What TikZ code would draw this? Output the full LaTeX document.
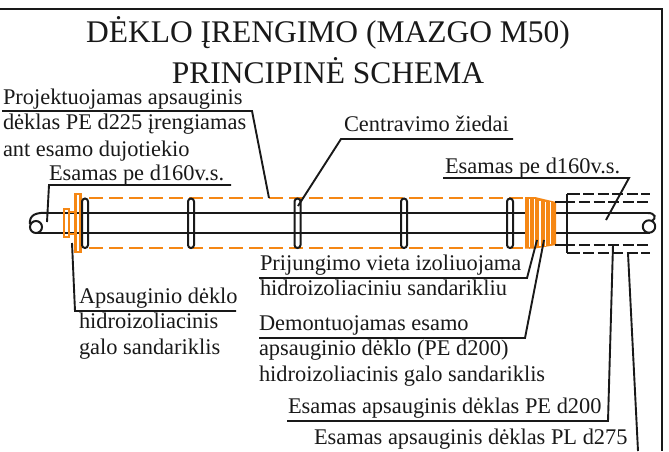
\documentclass[tikz,border=0pt]{standalone}
\usepackage{fontspec}
\setmainfont{Liberation Serif}
\definecolor{orng}{RGB}{245,135,20}
\definecolor{ink}{RGB}{25,25,25}
\tikzset{
 lbl/.style={anchor=base west,inner sep=0pt,outer sep=0pt,text=ink,font=\fontsize{22.4}{25}\selectfont},
 ttl/.style={anchor=base,inner sep=0pt,text=ink,font=\fontsize{31.5}{34}\selectfont},
 leader/.style={draw=ink,line width=1.9pt},
 pipe/.style={draw=ink,line width=2pt},
 dashpipe/.style={draw=ink,line width=2pt,dash pattern=on 11pt off 3.5pt},
 orngdash/.style={draw=orng,line width=2.4pt,dash pattern=on 14pt off 6pt},
 orngsolid/.style={draw=orng,line width=2.2pt},
 ring/.style={draw=ink,line width=2pt,rounded corners=3pt}
}
\begin{document}
\begin{tikzpicture}[x=1pt,y=-1pt]
\useasboundingbox (0,0) rectangle (669,451);
\fill[white] (0,0) rectangle (669,451);
% frame edge
\draw[pipe,line width=2.2pt] (0,9) -- (662,9) -- (662,451);
% title
\node[ttl] (t1) at (328,42) {DĖKLO ĮRENGIMO (MAZGO M50)};
\node[ttl] (t2) at (328,83) {PRINCIPINĖ SCHEMA};
% pipes
\draw[pipe] (48,213) -- (648,213);
\draw[pipe] (36,232.5) -- (650,232.5);
% pipe break ends
\draw[pipe] (48,213) .. controls (36,212) and (29,215) .. (30,224);
\draw[pipe] (36,227) circle (6);
\draw[pipe] (648,213) .. controls (655,213) and (657,218) .. (652,221);
\draw[pipe] (649,226.5) circle (6.2);
% orange sleeve
\draw[orngdash] (89,198) -- (530,198);
\draw[orngdash] (89,248) -- (530,248);
% left seal
\draw[orngsolid] (64,209) rectangle (69,237);
\draw[orngsolid] (69,212) -- (75,212) (69,234) -- (75,234);
\draw[orngsolid] (75.5,194) rectangle (80.5,252);
% rings
\foreach \x in {85,191,297.5,404,510}{
 \draw[ring] (\x-3,198.5) rectangle (\x+3,248);
}
% right seal
\fill[orng] (525,197) -- (535,197) -- (556,202) -- (556,245) -- (535,248.5) -- (525,248.5) -- cycle;
\foreach \x/\a/\b in {529.5/199/246.5,534.5/199/246.5,540/200.5/246,545.5/201.5/245.5,550.5/202/243.5}{
 \draw[white,line width=1.9pt] (\x,\a) -- (\x,\b);
}
% existing casing, right
\draw[pipe] (567,193.5) -- (567,253);
\draw[pipe] (555,202) -- (575,202);
\draw[pipe] (555,245) -- (575,245);
\draw[pipe] (567,193.5) -- (580,193.5);
\draw[pipe] (567,253) -- (580,253);
\draw[dashpipe] (583,193.5) -- (650,193.5);
\draw[dashpipe] (579,202) -- (650,202);
\draw[dashpipe] (579,245) -- (650,245);
\draw[dashpipe] (583,253) -- (650,253);
% labels
\node[lbl] (l1a) at (3,104) {Projektuojamas apsauginis};
\node[lbl] (l1b) at (3,129.5) {dėklas PE d225 įrengiamas};
\node[lbl] (l1c) at (3,156) {ant esamo dujotiekio};
\node[lbl] (l2) at (49,180) {Esamas pe d160v.s.};
\node[lbl] (l3) at (344,131) {Centravimo žiedai};
\node[lbl] (l4) at (445,173) {Esamas pe d160v.s.};
\node[lbl] (l5a) at (260,270) {Prijungimo vieta izoliuojama};
\node[lbl] (l5b) at (260,295) {hidroizoliaciniu sandarikliu};
\node[lbl] (l6a) at (79,303) {Apsauginio dėklo};
\node[lbl] (l6b) at (79,328) {hidroizoliacinis};
\node[lbl] (l6c) at (79,354) {galo sandariklis};
\node[lbl] (l7a) at (259,330) {Demontuojamas esamo};
\node[lbl] (l7b) at (259,355) {apsauginio dėklo (PE d200)};
\node[lbl] (l7c) at (259,381) {hidroizoliacinis galo sandariklis};
\node[lbl] (l8) at (288,413) {Esamas apsauginis dėklas PE d200};
\node[lbl] (l9) at (314,444) {Esamas apsauginis dėklas PL d275};
% leader anchors
\coordinate (a1) at (2,111);
\coordinate (a1k) at (252,111);
\coordinate (a1e) at (269,198);
\coordinate (a2) at (231,185);
\coordinate (a2k) at (49,185);
\coordinate (a2e) at (47,222);
\coordinate (a3) at (513,139);
\coordinate (a3k) at (341,139);
\coordinate (a3e) at (298,206);
\coordinate (a4) at (629,178);
\coordinate (a4k) at (443,178);
\coordinate (a4e) at (606,220);
\coordinate (a5) at (259,278);
\coordinate (a5k) at (527,278);
\coordinate (a5e) at (537,240);
\coordinate (a6) at (236,311);
\coordinate (a6k) at (75,311);
\coordinate (a6e) at (72,243);
\coordinate (a7) at (259,338);
\coordinate (a7k) at (525,338);
\coordinate (a7e) at (544,240);
\coordinate (a8) at (287,421);
\coordinate (a8k) at (608,421);
\coordinate (a8e) at (613,245);
\coordinate (a9e) at (628,253);
\coordinate (a9k) at (638,451);
\draw[leader] (a1) -- (a1k) -- (a1e);
\draw[leader] (a2) -- (a2k) -- (a2e);
\draw[leader] (a3) -- (a3k) -- (a3e);
\draw[leader] (a4k) -- (a4) -- (a4e);
\draw[leader] (a5) -- (a5k) -- (a5e);
\draw[leader] (a6) -- (a6k) -- (a6e);
\draw[leader] (a7) -- (a7k) -- (a7e);
\draw[leader] (a8) -- (a8k) -- (a8e);
\draw[leader] (a9k) -- (a9e);
\end{tikzpicture}
\end{document}
